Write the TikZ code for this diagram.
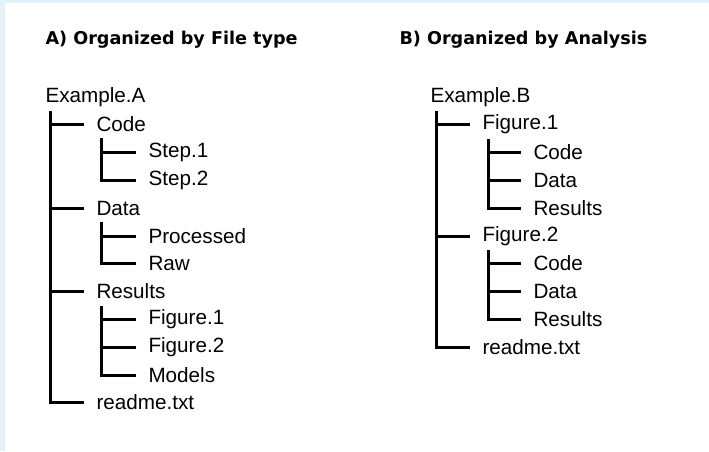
\documentclass[tikz,border=0pt]{standalone}
\usepackage{fontspec}
\setmainfont{Liberation Sans}
\newfontfamily\headfont{DejaVu Sans}
\definecolor{edgeblue}{RGB}{227,242,248}

\tikzset{every picture/.style={line width=0.75pt}}
\tikzset{
  item/.style={anchor=west, inner sep=0pt, font=\fontsize{15.5}{18}\selectfont},
  heading/.style={anchor=west, inner sep=0pt, font=\headfont\bfseries\fontsize{13.2}{16}\selectfont},
  branch/.style={line width=2.25pt, shorten >=9pt}
}

\begin{document}
\begin{tikzpicture}[x=0.75pt,y=0.75pt,yscale=-1,xscale=1]
\useasboundingbox (0,0) rectangle (709,451);

%Shape: Rectangle (page edge)
\fill [edgeblue] (0,0) rectangle (709,451);
\fill [white] (5,3) rectangle (709,451);

% Text Node
\node [heading] (titleA) at (45,40) {A) Organized by File type};
% Text Node
\node [heading] (titleB) at (399,40) {B) Organized by Analysis};

% Tree A
\node [item] (exA) at (45,97.5) {Example.A};
\node [item] (codeA) at (96,124.5) {Code};
\node [item] (step1) at (148,152.5) {Step.1};
\node [item] (step2) at (148,180.5) {Step.2};
\node [item] (dataA) at (96,208.5) {Data};
\node [item] (proc) at (148,236.5) {Processed};
\node [item] (raw) at (148,263.5) {Raw};
\node [item] (resA) at (96,291.5) {Results};
\node [item] (figA1) at (148,319.5) {Figure.1};
\node [item] (figA2) at (148,347.5) {Figure.2};
\node [item] (models) at (148,375.5) {Models};
\node [item] (readA) at (96,402.5) {readme.txt};

\coordinate (trA) at (50.5,111);
\coordinate (trCode) at (101.5,138);
\coordinate (trData) at (101.5,222);
\coordinate (trRes) at (101.5,306);

% trunks end in the last child
\draw [branch] (trA) |- (readA.west);
\draw [branch] (trCode) |- (step2.west);
\draw [branch] (trData) |- (raw.west);
\draw [branch] (trRes) |- (models.west);
% side branches
\draw [branch] (trA |- codeA.west) -- (codeA.west);
\draw [branch] (trA |- dataA.west) -- (dataA.west);
\draw [branch] (trA |- resA.west) -- (resA.west);
\draw [branch] (trCode |- step1.west) -- (step1.west);
\draw [branch] (trData |- proc.west) -- (proc.west);
\draw [branch] (trRes |- figA1.west) -- (figA1.west);
\draw [branch] (trRes |- figA2.west) -- (figA2.west);

% Tree B
\node [item] (exB) at (430,97.5) {Example.B};
\node [item] (figB1) at (482,124.5) {Figure.1};
\node [item] (codeB1) at (533,152.5) {Code};
\node [item] (dataB1) at (533,180.5) {Data};
\node [item] (resB1) at (533,208.5) {Results};
\node [item] (figB2) at (482,236.5) {Figure.2};
\node [item] (codeB2) at (533,263.5) {Code};
\node [item] (dataB2) at (533,291.5) {Data};
\node [item] (resB2) at (533,319.5) {Results};
\node [item] (readB) at (482,347.5) {readme.txt};

\coordinate (trB) at (436.5,111);
\coordinate (trFig1) at (488.5,139);
\coordinate (trFig2) at (488.5,250);

% trunks end in the last child
\draw [branch] (trB) |- (readB.west);
\draw [branch] (trFig1) |- (resB1.west);
\draw [branch] (trFig2) |- (resB2.west);
% side branches
\draw [branch] (trB |- figB1.west) -- (figB1.west);
\draw [branch] (trB |- figB2.west) -- (figB2.west);
\draw [branch] (trFig1 |- codeB1.west) -- (codeB1.west);
\draw [branch] (trFig1 |- dataB1.west) -- (dataB1.west);
\draw [branch] (trFig2 |- codeB2.west) -- (codeB2.west);
\draw [branch] (trFig2 |- dataB2.west) -- (dataB2.west);

\end{tikzpicture}
\end{document}
